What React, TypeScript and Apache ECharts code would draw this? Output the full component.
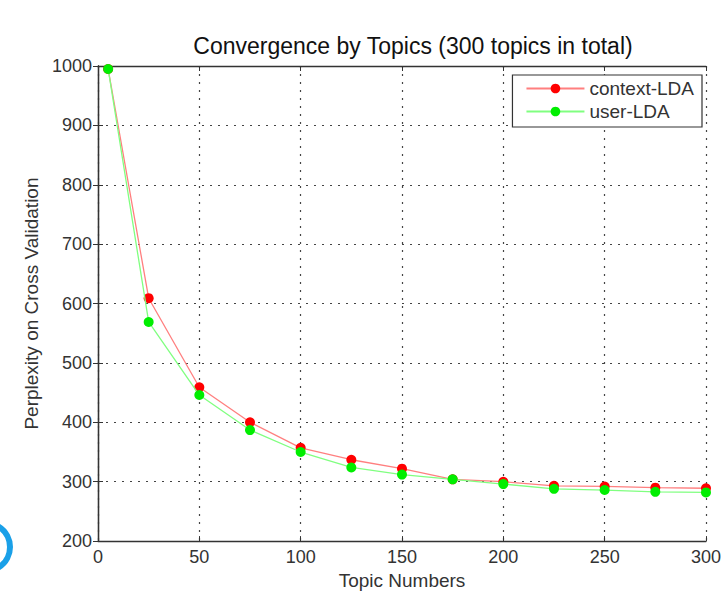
import React, { useEffect, useRef } from "react";
import * as echarts from "echarts";

const topics = [5, 25, 50, 75, 100, 125, 150, 175, 200, 225, 250, 275, 300];
const contextLDA = [995, 609, 459, 400, 357, 337, 322, 304, 300, 293, 292, 290, 289];
const userLDA = [995, 569, 446, 387, 350, 324, 312, 304, 296, 288, 286, 283, 282];
const seriesNames = ["context-LDA", "user-LDA"];
const titleText = "Convergence by Topics (300 topics in total)";
const xName = "Topic Numbers";
const yName = "Perplexity on Cross Validation";

export default function App() {
  const ref = useRef<HTMLDivElement>(null);
  useEffect(() => {
    const chart = echarts.init(ref.current!, null, { renderer: "svg" });
    const font = "Liberation Sans, Arial, sans-serif";
    const axisLine = { show: true, lineStyle: { color: "#333", width: 1.3 } };
    const dotted = { show: true, lineStyle: { color: "#444", type: [2, 6] as any, width: 1.2 } };
    const tick = { show: true, inside: true, length: 5, lineStyle: { color: "#333" } };
    chart.setOption({
      animation: false,
      backgroundColor: "#fff",
      textStyle: { fontFamily: font },
      title: {
        text: titleText,
        left: 408,
        textAlign: "center",
        top: 29,
        textStyle: { fontSize: 23, fontWeight: "normal", color: "#111", fontFamily: font },
      },
      legend: {
        right: 22,
        top: 75,
        orient: "vertical",
        itemWidth: 58,
        itemHeight: 12,
        itemGap: 0,
        padding: [2, 8, 4, 13],
        borderColor: "#333",
        borderWidth: 1.2,
        backgroundColor: "#fff",
        borderRadius: 0,
        textStyle: { fontSize: 19, lineHeight: 23, color: "#333", fontFamily: font },
        data: seriesNames,
      },
      grid: { left: 98, right: 14, top: 66, bottom: 49 },
      xAxis: [
        {
          type: "value",
          min: 0,
          max: 300,
          interval: 50,
          name: xName,
          nameLocation: "middle",
          nameGap: 29,
          nameTextStyle: { fontSize: 19, color: "#333", fontFamily: font },
          axisLine,
          axisTick: tick,
          axisLabel: { fontSize: 18, color: "#333", margin: 7, fontFamily: font },
          splitLine: dotted,
        },
        {
          type: "value",
          position: "top",
          min: 0,
          max: 300,
          interval: 50,
          axisLine,
          axisTick: tick,
          axisLabel: { show: false },
          splitLine: { show: false },
        },
      ],
      yAxis: [
        {
          type: "value",
          min: 200,
          max: 1000,
          interval: 100,
          name: yName,
          nameLocation: "middle",
          nameGap: 55,
          nameTextStyle: { fontSize: 19, color: "#333", fontFamily: font },
          axisLine,
          axisTick: tick,
          axisLabel: { fontSize: 18, color: "#333", margin: 6, fontFamily: font, formatter: (v: number) => String(v) },
          splitLine: dotted,
        },
        {
          type: "value",
          position: "right",
          min: 200,
          max: 1000,
          interval: 100,
          axisLine,
          axisTick: tick,
          axisLabel: { show: false },
          splitLine: { show: false },
        },
      ],
      series: [
        {
          name: seriesNames[0],
          type: "line",
          data: topics.map((t, i) => [t, contextLDA[i]]),
          symbol: "circle",
          symbolSize: 10,
          itemStyle: { color: "#ff0000" },
          lineStyle: { color: "#ff7f7f", width: 1.3 },
          z: 3,
        },
        {
          name: seriesNames[1],
          type: "line",
          data: topics.map((t, i) => [t, userLDA[i]]),
          symbol: "circle",
          symbolSize: 10,
          itemStyle: { color: "#00ee00" },
          lineStyle: { color: "#80ff80", width: 1.3 },
          z: 4,
        },
      ],
      graphic: [
        {
          type: "circle",
          shape: { cx: -14, cy: 547, r: 24 },
          style: { fill: "#fff", stroke: "#1aa0e8", lineWidth: 6 },
          z: 10,
        },
      ],
    });
    return () => chart.dispose();
  }, []);
  return <div ref={ref} style={{ width: 724, height: 595, position: "absolute", left: 0, top: 0 }} />;
}
